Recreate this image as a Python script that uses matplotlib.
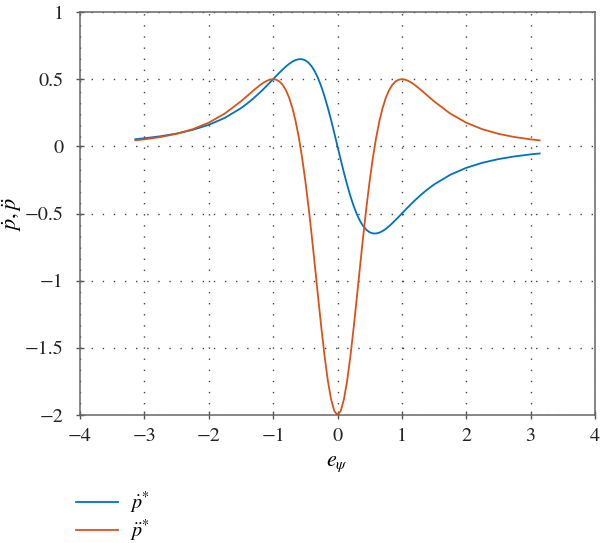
import matplotlib
matplotlib.use("Agg")
import matplotlib.pyplot as plt

# sample points
e_psi = [-3.14, -3.0, -2.75, -2.5, -2.25, -2.0, -1.75, -1.5, -1.4, -1.3, -1.2, -1.15,
         -1.1, -1.05, -1.0, -0.95, -0.9, -0.85, -0.8, -0.75, -0.7, -0.65, -0.6, -0.55,
         -0.5, -0.45, -0.4, -0.35, -0.3, -0.25, -0.2, -0.15, -0.1, -0.05, 0.0,
         0.05, 0.1, 0.15, 0.2, 0.25, 0.3, 0.35, 0.4, 0.45, 0.5, 0.55, 0.6, 0.65, 0.7,
         0.75, 0.8, 0.85, 0.9, 0.95, 1.0, 1.05, 1.1, 1.15, 1.2, 1.3, 1.4, 1.5, 1.75,
         2.0, 2.25, 2.5, 2.75, 3.0, 3.14]

p_dot = [0.0533, 0.060, 0.0750, 0.0951, 0.1224, 0.160, 0.2121, 0.2840, 0.3196, 0.3593,
         0.4031, 0.4264, 0.4504, 0.4751, 0.500, 0.5249, 0.5494, 0.5730, 0.5949, 0.6144,
         0.6306, 0.6424, 0.6488, 0.6484, 0.640, 0.6224, 0.5945, 0.5556, 0.5050, 0.4429,
         0.3698, 0.2869, 0.1961, 0.0995, 0.0,
         -0.0995, -0.1961, -0.2869, -0.3698, -0.4429, -0.5050, -0.5556, -0.5945,
         -0.6224, -0.640, -0.6484, -0.6488, -0.6424, -0.6306, -0.6144, -0.5949, -0.5730,
         -0.5494, -0.5249, -0.500, -0.4751, -0.4504, -0.4264, -0.4031, -0.3593, -0.3196,
         -0.2840, -0.2121, -0.160, -0.1224, -0.0951, -0.0750, -0.060, -0.0533]

p_ddot = [0.0446, 0.052, 0.0691, 0.0932, 0.1273, 0.176, 0.2442, 0.3350, 0.3763, 0.4182,
          0.4571, 0.4738, 0.4873, 0.4966, 0.500, 0.4959, 0.4823, 0.4569, 0.4171, 0.3604,
          0.2842, 0.1859, 0.0636, -0.0837, -0.256, -0.4515, -0.6663, -0.8944, -1.1274,
          -1.3548, -1.5646, -1.7446, -1.8829, -1.9702, -2.0,
          -1.9702, -1.8829, -1.7446, -1.5646, -1.3548, -1.1274, -0.8944, -0.6663,
          -0.4515, -0.256, -0.0837, 0.0636, 0.1859, 0.2842, 0.3604, 0.4171, 0.4569,
          0.4823, 0.4959, 0.500, 0.4966, 0.4873, 0.4738, 0.4571, 0.4182, 0.3763, 0.3350,
          0.2442, 0.176, 0.1273, 0.0932, 0.0691, 0.052, 0.0446]

x_ticks = [-4, -3, -2, -1, 0, 1, 2, 3, 4]
y_ticks = [-2, -1.5, -1, -0.5, 0, 0.5, 1]

plt.rcParams['font.family'] = ['STIXGeneral', 'Liberation Serif', 'DejaVu Serif']
plt.rcParams['mathtext.fontset'] = 'stix'
plt.rcParams['axes.unicode_minus'] = True

fig = plt.figure(figsize=(6.0, 5.43), dpi=100)
ax = fig.add_axes([80 / 600, 1 - 415 / 543, 515 / 600, 403 / 543])

l1, = ax.plot(e_psi, p_dot, color='#0072BD', lw=1.3, label=r'$\dot{p}^{*}$')
l2, = ax.plot(e_psi, p_ddot, color='#D95319', lw=1.3, label=r'$\ddot{p}^{*}$')

ax.set_xlim(-4, 4)
ax.set_ylim(-2, 1)
ax.set_xticks(x_ticks)
ax.set_yticks(y_ticks)
ax.set_xticklabels([str(t).replace('-', '\u2212') for t in x_ticks])
ax.set_yticklabels([('%g' % t).replace('-', '\u2212') for t in y_ticks])
ax.tick_params(direction='inout', length=6, width=1.0, color='#555555',
               labelsize=14.5, top=False, right=False, labelcolor='#222222')
ax.tick_params(axis='y', pad=9)
ax.tick_params(axis='x', pad=6)

ax.grid(True, color='#444444', linestyle=(0, (1, 7)), linewidth=1.0)
for s in ax.spines.values():
    s.set_color('#666666')
    s.set_linewidth(1.1)

ax.set_xlabel(r'$e_{\psi}$', fontsize=16, labelpad=7)
ax.set_ylabel(r'$\dot{p},\ddot{p}$', fontsize=16)
ax.yaxis.set_label_coords(-0.108, 0.5)

fig.legend(handles=[l1, l2], loc='center left', bbox_to_anchor=(74 / 600, 1 - 517 / 543),
           frameon=False, fontsize=14.5, handlelength=2.1, handletextpad=0.6,
           labelspacing=0.12, borderaxespad=0, borderpad=0.1)

fig.savefig('out.png', dpi=100)
